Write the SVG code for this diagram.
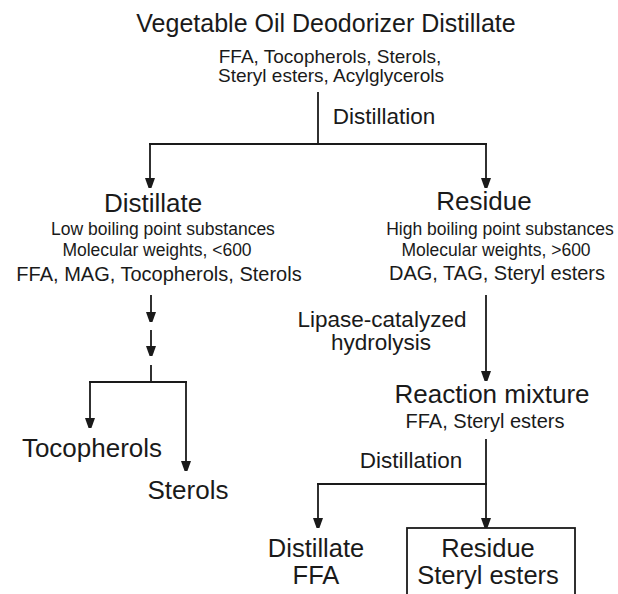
<svg xmlns="http://www.w3.org/2000/svg" width="618" height="594" viewBox="0 0 618 594">
<defs>
<marker id="arr" markerUnits="userSpaceOnUse" markerWidth="10" markerHeight="14" viewBox="0 0 10 14" refX="10" refY="5" orient="auto">
<path d="M0,0 L14,5 L0,10 Z" fill="#1a1a1a"/>
</marker>
</defs>
<style>
text{font-family:"Liberation Sans",Arial,sans-serif;fill:#1a1a1a;text-anchor:middle}
.l{font-size:26px}
.b{font-size:25.5px}
.m{font-size:20px}
.t{font-size:19px}
.p{font-size:22.5px}
.s{font-size:17.5px}
.c{stroke:#1a1a1a;stroke-width:1.8;fill:none}
.a{marker-end:url(#arr)}
</style>
<rect width="618" height="594" fill="#ffffff"/>
<g id="connectors" class="c">
<line x1="318" y1="92" x2="318" y2="144"/>
<line x1="149" y1="144" x2="487" y2="144"/>
<line class="a" x1="150" y1="144" x2="150" y2="188"/>
<line class="a" x1="486" y1="144" x2="486" y2="188"/>
<line class="a" x1="151" y1="295" x2="151" y2="322"/>
<line class="a" x1="151" y1="330" x2="151" y2="356"/>
<line x1="151" y1="365" x2="151" y2="382"/>
<line x1="89" y1="382" x2="187" y2="382"/>
<line class="a" x1="90" y1="382" x2="90" y2="428"/>
<line class="a" x1="186" y1="382" x2="186" y2="471"/>
<line class="a" x1="486" y1="295" x2="486" y2="381"/>
<line x1="486" y1="439" x2="486" y2="484"/>
<line x1="317" y1="484" x2="487" y2="484"/>
<line class="a" x1="318" y1="484" x2="318" y2="528"/>
<line class="a" x1="486" y1="484" x2="486" y2="528"/>
</g>
<g id="source">
<text class="l" x="326" y="32" style="font-size:25px">Vegetable Oil Deodorizer Distillate</text>
<text class="t" x="330" y="63">FFA, Tocopherols, Sterols,</text>
<text class="t" x="331" y="82">Steryl esters, Acylglycerols</text>
</g>
<g id="label-distillation-1"><text class="p" x="384" y="124">Distillation</text></g>
<g id="distillate">
<text class="l" x="153" y="212">Distillate</text>
<text class="s" x="163" y="235">Low boiling point substances</text>
<text class="s" x="157" y="256">Molecular weights, &lt;600</text>
<text class="m" x="159" y="281">FFA, MAG, Tocopherols, Sterols</text>
</g>
<g id="residue">
<text class="l" x="484" y="210">Residue</text>
<text class="s" x="500" y="235">High boiling point substances</text>
<text class="s" x="496" y="256">Molecular weights, &gt;600</text>
<text class="m" x="497" y="280">DAG, TAG, Steryl esters</text>
</g>
<g id="tocopherols"><text class="l" x="92" y="457">Tocopherols</text></g>
<g id="sterols"><text class="l" x="188" y="499">Sterols</text></g>
<g id="label-hydrolysis">
<text class="p" x="382" y="327">Lipase-catalyzed</text>
<text class="p" x="381" y="350">hydrolysis</text>
</g>
<g id="reaction-mixture">
<text class="l" x="492" y="403">Reaction mixture</text>
<text class="m" x="485" y="428">FFA, Steryl esters</text>
</g>
<g id="label-distillation-2"><text class="p" x="411" y="468">Distillation</text></g>
<g id="distillate-ffa">
<text class="b" x="316" y="557">Distillate</text>
<text class="b" x="316" y="584">FFA</text>
</g>
<g id="residue-steryl">
<rect class="c" x="407" y="528" width="168" height="72"/>
<text class="b" x="488" y="557">Residue</text>
<text class="b" x="488" y="584">Steryl esters</text>
</g>
</svg>
